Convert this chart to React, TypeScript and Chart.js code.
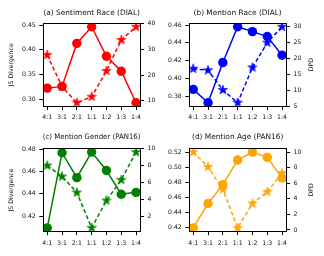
import React, { useEffect, useRef } from 'react';
import { Chart, registerables } from 'chart.js';
Chart.register(...registerables);

const ratios = ['4:1', '3:1', '2:1', '1:1', '1:2', '1:3', '1:4'];

const jsSentimentRace = [0.3225, 0.326, 0.413, 0.4466, 0.387, 0.3566, 0.293];
const dpdSentimentRace = [27.8, 15.5, 9.3, 11.6, 21.6, 33.6, 38.7];
const jsMentionRace = [0.3875, 0.3725, 0.4177, 0.458, 0.4525, 0.447, 0.426];
const dpdMentionRace = [16.8, 16.3, 10.1, 6.1, 17.2, 25.0, 30.0];
const jsMentionGender = [0.4094, 0.477, 0.4546, 0.4776, 0.461, 0.4397, 0.4414];
const dpdMentionGender = [8.0, 6.7, 4.8, 0.6, 3.85, 6.3, 9.6];
const jsMentionAge = [0.419, 0.4516, 0.4769, 0.5098, 0.5204, 0.5133, 0.4858];
const dpdMentionAge = [10.0, 8.1, 5.2, 0.26, 3.4, 4.9, 7.3];

const jsTicksA = [0.3, 0.35, 0.4, 0.45];
const dpdTicksA = [10, 20, 30, 40];
const jsTicksB = [0.38, 0.4, 0.42, 0.44, 0.46];
const dpdTicksB = [5, 10, 15, 20, 25, 30];
const jsTicksC = [0.42, 0.44, 0.46, 0.48];
const dpdTicksC = [2, 4, 6, 8, 10];
const jsTicksD = [0.42, 0.44, 0.46, 0.48, 0.5, 0.52];
const dpdTicksD = [0, 2, 4, 6, 8, 10];

const FONT = 'DejaVu Sans';
const TEXT = '#111';

function limits(arr: number[]) {
  const lo = Math.min(...arr);
  const hi = Math.max(...arr);
  const m = (hi - lo) * 0.05;
  return { min: lo - m, max: hi + m };
}

function makeStar(color: string, r: number) {
  const size = Math.ceil(r * 2 + 2);
  const c = document.createElement('canvas');
  c.width = size;
  c.height = size;
  const ctx = c.getContext('2d')!;
  ctx.translate(size / 2, size / 2);
  ctx.beginPath();
  for (let i = 0; i < 10; i++) {
    const rad = i % 2 === 0 ? r : r * 0.382;
    const a = -Math.PI / 2 + (i * Math.PI) / 5;
    const x = rad * Math.cos(a);
    const y = rad * Math.sin(a);
    if (i === 0) ctx.moveTo(x, y);
    else ctx.lineTo(x, y);
  }
  ctx.closePath();
  ctx.fillStyle = color;
  ctx.fill();
  ctx.strokeStyle = color;
  ctx.lineWidth = 0.6;
  ctx.stroke();
  return c;
}

const framePlugin = {
  id: 'frame',
  afterDatasetsDraw(chart: any) {
    const { left, top, right, bottom } = chart.chartArea;
    const ctx = chart.ctx;
    ctx.save();
    ctx.strokeStyle = '#000';
    ctx.lineWidth = 1;
    const l = Math.round(left) + 0.5;
    const t = Math.round(top) + 0.5;
    const r = Math.round(right) - 0.5;
    const b = Math.round(bottom) - 0.5;
    ctx.strokeRect(l, t, r - l, b - t);
    ctx.restore();
  },
};

function dpdLabelPlugin(show: boolean, x: number) {
  return {
    id: 'dpdLabel',
    afterDraw(chart: any) {
      if (!show) return;
      const { top, bottom } = chart.chartArea;
      const ctx = chart.ctx;
      ctx.save();
      ctx.translate(x, (top + bottom) / 2);
      ctx.rotate(-Math.PI / 2);
      ctx.fillStyle = TEXT;
      ctx.font = `6.2px "${FONT}"`;
      ctx.textAlign = 'center';
      ctx.textBaseline = 'middle';
      ctx.fillText('DPD', 0, 0);
      ctx.restore();
    },
  };
}

type PanelSpec = {
  title: string;
  color: string;
  js: number[];
  dpd: number[];
  jsTicks: number[];
  dpdTicks: number[];
  left: number;
  top: number;
  yLW: number;
  yRW: number;
  xH: number;
  tTop: number;
  tBot: number;
  showJs: boolean;
  showDpd: boolean;
};

const W = 162;
const H = 128;

const panels: PanelSpec[] = [
  { title: '(a) Sentiment Race (DIAL)', color: '#ff0000', js: jsSentimentRace, dpd: dpdSentimentRace, jsTicks: jsTicksA, dpdTicks: dpdTicksA, left: 0, top: 0, yLW: 42.8, yRW: 21.5, xH: 21.5, tTop: 8.5, tBot: 5.6, showJs: true, showDpd: false },
  { title: '(b) Mention Race (DIAL)', color: '#0000ff', js: jsMentionRace, dpd: dpdMentionRace, jsTicks: jsTicksB, dpdTicks: dpdTicksB, left: 162, top: 0, yLW: 26.8, yRW: 37.5, xH: 21.5, tTop: 8.5, tBot: 5.6, showJs: false, showDpd: true },
  { title: '(c) Mention Gender (PAN16)', color: '#008000', js: jsMentionGender, dpd: dpdMentionGender, jsTicks: jsTicksC, dpdTicks: dpdTicksC, left: 0, top: 128, yLW: 42.8, yRW: 21.5, xH: 24.3, tTop: 5.1, tBot: 6.3, showJs: true, showDpd: false },
  { title: '(d) Mention Age (PAN16)', color: '#ffa500', js: jsMentionAge, dpd: dpdMentionAge, jsTicks: jsTicksD, dpdTicks: dpdTicksD, left: 162, top: 128, yLW: 26.8, yRW: 37.5, xH: 24.3, tTop: 5.1, tBot: 6.3, showJs: false, showDpd: true },
];

function buildConfig(p: PanelSpec): any {
  const tickFont = { family: FONT, size: 6.2 };
  const gridCfg = { display: true, drawOnChartArea: false, drawTicks: true, tickLength: 3.5, color: '#000', tickColor: '#000', tickWidth: 1 };
  const jsLim = limits(p.js);
  const dpdLim = limits(p.dpd);
  return {
    type: 'line',
    data: {
      datasets: [
        {
          label: 'DPD',
          data: p.dpd.map((v, i) => ({ x: i, y: v })),
          yAxisID: 'y1',
          borderColor: p.color,
          backgroundColor: p.color,
          borderWidth: 1.5,
          borderDash: [4, 2.5],
          pointStyle: makeStar(p.color, 5),
          pointRadius: 5,
          pointBorderWidth: 0,
          clip: 0,
          order: 0,
        },
        {
          label: 'JS',
          data: p.js.map((v, i) => ({ x: i, y: v })),
          yAxisID: 'y',
          borderColor: p.color,
          backgroundColor: p.color,
          borderWidth: 1.5,
          pointStyle: 'circle',
          pointRadius: 4.7,
          pointBorderWidth: 0,
          clip: 0,
          order: 1,
        },
      ],
    },
    options: {
      responsive: false,
      animation: false,
      events: [],
      layout: { padding: 0 },
      plugins: {
        legend: { display: false },
        tooltip: { enabled: false },
        title: {
          display: true,
          text: p.title,
          fullSize: false,
          color: TEXT,
          font: { family: FONT, size: 7.4, weight: 'normal' },
          padding: { top: p.tTop, bottom: p.tBot },
        },
      },
      scales: {
        x: {
          type: 'linear',
          min: -0.3,
          max: 6.3,
          afterBuildTicks: (s: any) => {
            s.ticks = ratios.map((_, i) => ({ value: i }));
          },
          afterFit: (s: any) => {
            s.height = p.xH;
          },
          ticks: { callback: (v: number) => ratios[v], font: tickFont, color: TEXT, padding: 4, maxRotation: 0, autoSkip: false },
          grid: gridCfg,
          border: { display: false },
        },
        y: {
          type: 'linear',
          position: 'left',
          min: jsLim.min,
          max: jsLim.max,
          afterBuildTicks: (s: any) => {
            s.ticks = p.jsTicks.map((v) => ({ value: v }));
          },
          afterFit: (s: any) => {
            s.width = p.yLW;
          },
          ticks: { callback: (v: number) => v.toFixed(2), font: tickFont, color: TEXT, padding: 3.5 },
          grid: gridCfg,
          border: { display: false },
          title: { display: p.showJs, text: 'JS Divergence', color: TEXT, font: { family: FONT, size: 6.2 }, padding: { top: 8, bottom: 0 } },
        },
        y1: {
          type: 'linear',
          position: 'right',
          min: dpdLim.min,
          max: dpdLim.max,
          afterBuildTicks: (s: any) => {
            s.ticks = p.dpdTicks.map((v) => ({ value: v }));
          },
          afterFit: (s: any) => {
            s.width = p.yRW;
          },
          ticks: { callback: (v: number) => String(Math.round(v)), font: tickFont, color: TEXT, padding: 3.5 },
          grid: gridCfg,
          border: { display: false },
        },
      },
    },
    plugins: [framePlugin, dpdLabelPlugin(p.showDpd, 149.7)],
  };
}

function Panel({ spec }: { spec: PanelSpec }) {
  const ref = useRef<HTMLCanvasElement>(null);
  useEffect(() => {
    const chart = new Chart(ref.current as HTMLCanvasElement, buildConfig(spec));
    return () => chart.destroy();
  }, [spec]);
  return (
    <canvas
      ref={ref}
      width={W}
      height={H}
      style={{ position: 'absolute', left: spec.left, top: spec.top, width: W, height: H }}
    />
  );
}

export default function App() {
  return (
    <div style={{ position: 'fixed', left: 0, top: 0, width: 324, height: 256, background: '#fff' }}>
      {panels.map((p) => (
        <Panel key={p.title} spec={p} />
      ))}
    </div>
  );
}
